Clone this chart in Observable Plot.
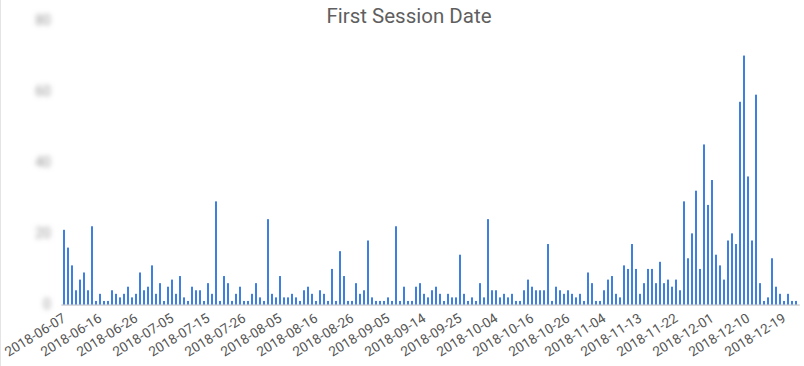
<!DOCTYPE html>
<html><head><meta charset="utf-8">
<script src="https://cdn.jsdelivr.net/npm/d3@7"></script>
<script src="https://cdn.jsdelivr.net/npm/@observablehq/plot@0.6"></script>
<style>
html,body{margin:0;padding:0;background:#fff;}
#wrap{position:relative;width:804px;height:366px;overflow:hidden;}
#edge{position:absolute;left:0;top:0;width:1px;height:366px;background:#e4e4e4;}
#title{position:absolute;left:0;top:4px;width:804px;text-align:center;padding-left:14px;box-sizing:border-box;font:20.5px Roboto, sans-serif;color:#5f5f5f;}
#chart{position:absolute;left:0;top:0;}
</style></head><body><div id="wrap"><div id="chart"></div><div id="edge"></div><div id="title">First Session Date</div></div>
<script>
const dates = [
"2018-06-07","2018-06-08","2018-06-09","2018-06-10","2018-06-11","2018-06-12","2018-06-13","2018-06-14","2018-06-15",
"2018-06-16","2018-06-17","2018-06-18","2018-06-19","2018-06-21","2018-06-22","2018-06-23","2018-06-24","2018-06-25",
"2018-06-26","2018-06-27","2018-06-28","2018-06-29","2018-06-30","2018-07-01","2018-07-02","2018-07-03","2018-07-04",
"2018-07-05","2018-07-06","2018-07-07","2018-07-08","2018-07-10","2018-07-11","2018-07-12","2018-07-13","2018-07-14",
"2018-07-15","2018-07-16","2018-07-17","2018-07-19","2018-07-20","2018-07-21","2018-07-23","2018-07-24","2018-07-25",
"2018-07-26","2018-07-27","2018-07-28","2018-07-29","2018-07-31","2018-08-01","2018-08-02","2018-08-03","2018-08-04",
"2018-08-05","2018-08-06","2018-08-07","2018-08-09","2018-08-10","2018-08-11","2018-08-13","2018-08-14","2018-08-15",
"2018-08-16","2018-08-17","2018-08-18","2018-08-19","2018-08-21","2018-08-22","2018-08-23","2018-08-24","2018-08-25",
"2018-08-26","2018-08-27","2018-08-28","2018-08-29","2018-08-31","2018-09-01","2018-09-02","2018-09-03","2018-09-04",
"2018-09-05","2018-09-06","2018-09-07","2018-09-08","2018-09-09","2018-09-10","2018-09-11","2018-09-12","2018-09-13",
"2018-09-14","2018-09-15","2018-09-16","2018-09-18","2018-09-19","2018-09-20","2018-09-22","2018-09-23","2018-09-24",
"2018-09-25","2018-09-26","2018-09-27","2018-09-28","2018-09-29","2018-09-30","2018-10-01","2018-10-02","2018-10-03",
"2018-10-04","2018-10-05","2018-10-07","2018-10-08","2018-10-09","2018-10-11","2018-10-12","2018-10-14","2018-10-15",
"2018-10-16","2018-10-17","2018-10-18","2018-10-19","2018-10-21","2018-10-22","2018-10-23","2018-10-24","2018-10-25",
"2018-10-26","2018-10-27","2018-10-28","2018-10-29","2018-10-30","2018-10-31","2018-11-01","2018-11-02","2018-11-03",
"2018-11-04","2018-11-05","2018-11-06","2018-11-07","2018-11-08","2018-11-09","2018-11-10","2018-11-11","2018-11-12",
"2018-11-13","2018-11-14","2018-11-15","2018-11-16","2018-11-17","2018-11-18","2018-11-19","2018-11-20","2018-11-21",
"2018-11-22","2018-11-23","2018-11-24","2018-11-25","2018-11-26","2018-11-27","2018-11-28","2018-11-29","2018-11-30",
"2018-12-01","2018-12-02","2018-12-03","2018-12-04","2018-12-05","2018-12-06","2018-12-07","2018-12-08","2018-12-09",
"2018-12-10","2018-12-11","2018-12-12","2018-12-13","2018-12-14","2018-12-15","2018-12-16","2018-12-17","2018-12-18",
"2018-12-19","2018-12-20","2018-12-21","2018-12-22"
];
const counts = [
21,16,11,4,7,9,4,22,1,3,
1,1,4,3,2,3,5,2,3,9,
4,5,11,3,6,1,5,7,3,8,
2,1,5,4,4,1,6,3,29,1,
8,6,1,3,5,1,1,3,6,2,
1,24,3,2,8,2,2,3,2,1,
4,5,3,1,4,3,1,10,1,15,
8,1,1,6,3,4,18,2,1,1,
1,2,1,22,1,5,1,1,5,6,
3,2,4,5,3,1,3,2,2,14,
3,1,2,1,6,2,24,4,4,2,
3,2,3,1,1,4,7,5,4,4,
4,17,1,5,4,3,4,3,2,3,
1,9,6,1,1,4,7,8,3,2,
11,10,17,10,3,6,10,10,6,12,
6,7,5,7,4,29,13,20,32,10,
45,28,35,14,11,7,18,20,17,57,
70,36,18,59,6,1,2,13,5,3,
1,3,1,1
];
const tickLabels = ["2018-06-07","2018-06-16","2018-06-26","2018-07-05","2018-07-15","2018-07-26","2018-08-05","2018-08-16","2018-08-26","2018-09-05","2018-09-14","2018-09-25","2018-10-04","2018-10-16","2018-10-26","2018-11-04","2018-11-13","2018-11-22","2018-12-01","2018-12-10","2018-12-19"];
const yTicks = [0, 20, 40, 60, 80];

const data = dates.map((d, i) => ({date: d, count: counts[i]}));

const chart = Plot.plot({
  width: 804, height: 366,
  marginLeft: 61.4, marginRight: 4.2, marginTop: 20, marginBottom: 61.5,
  style: {fontFamily: "Roboto, sans-serif", fontSize: "14px", color: "#555", background: "transparent"},
  x: {type: "band", domain: dates, paddingInner: 0.4, paddingOuter: 0.2, align: 0.5},
  y: {domain: [0, 80]},
  marks: [
    Plot.ruleY([0], {stroke: "#b5b5b5"}),
    Plot.barY(data, {x: "date", y: "count", fill: "#3f7fe0", insetLeft: 0, insetRight: 0}),
    Plot.axisX({ticks: tickLabels, tickSize: 0, tickRotate: -32, tickPadding: 12, label: null, fill: "#555", fontSize: 13.6}),
    Plot.axisY({ticks: yTicks, tickSize: 0, tickPadding: 11, label: null, fill: "#9a9a9a", fontSize: 14})
  ]
});
document.getElementById("chart").appendChild(chart);

// the y tick labels are pixelated/blurred in the reference: blur them
const svg = d3.select(chart);
const defs = svg.insert("defs", ":first-child");
defs.append("filter").attr("id", "yblur").attr("x", "-50%").attr("y", "-50%").attr("width", "200%").attr("height", "200%")
  .append("feGaussianBlur").attr("stdDeviation", 2.6);
svg.selectAll('g[aria-label="y-axis tick label"]').attr("filter", "url(#yblur)");
</script>
</body></html>
